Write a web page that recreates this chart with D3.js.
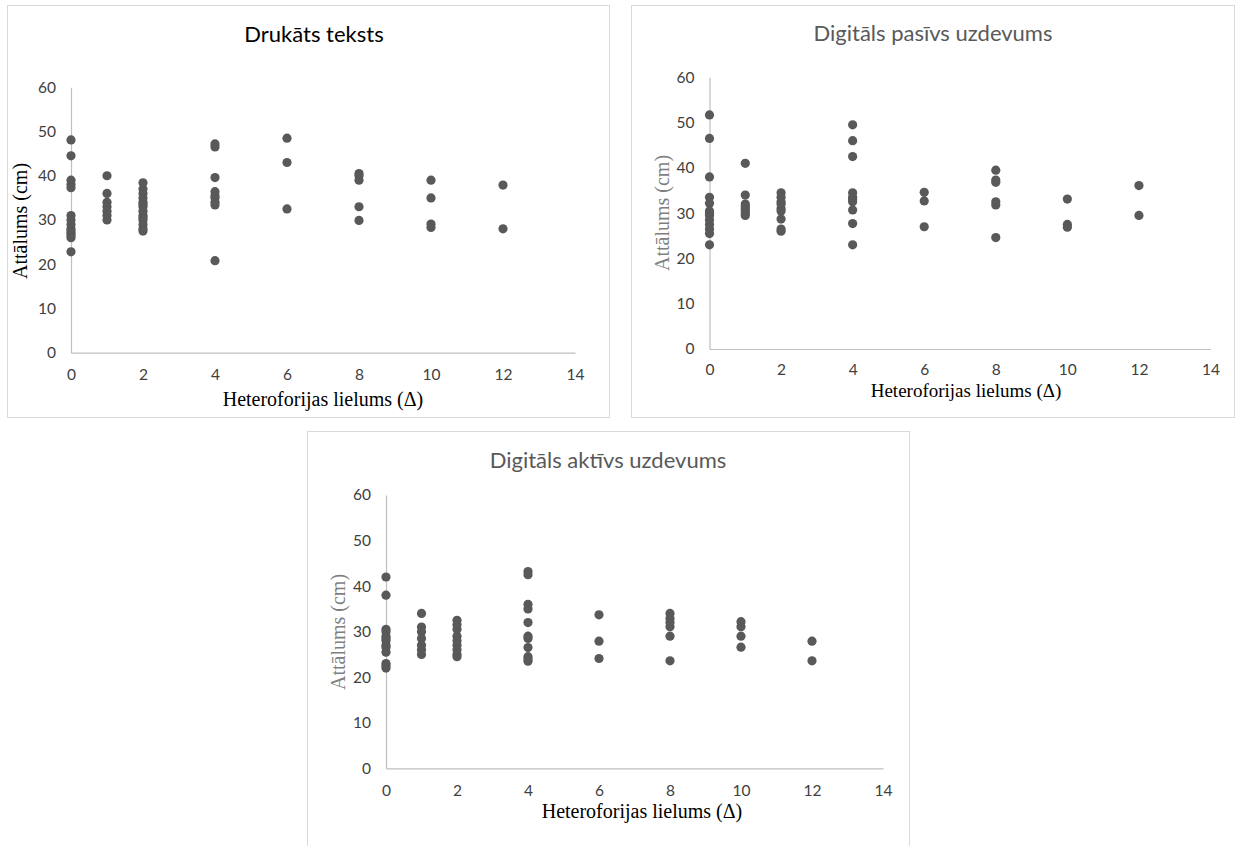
<!DOCTYPE html>
<html><head><meta charset="utf-8">
<script src="https://cdn.jsdelivr.net/npm/d3@7"></script>
<style>body{margin:0;background:#fff}svg{display:block}</style>
</head><body>
<svg id="c" width="1237" height="846"></svg>
<script>
const xTicks = [0, 2, 4, 6, 8, 10, 12, 14];
const yTicks = [0, 10, 20, 30, 40, 50, 60];
const titles = ["Drukāts teksts", "Digitāls pasīvs uzdevums", "Digitāls aktīvs uzdevums"];
const xAxisTitle = "Heteroforijas lielums (Δ)";
const yAxisTitle = "Attālums (cm)";

// Drukāts teksts
const printX = [0,0,0,0,0,0,0,0,0,0,0,0,0,0, 1,1,1,1,1,1,1, 2,2,2,2,2,2,2,2,2,2,2,2,2,2, 4,4,4,4,4,4,4,4,4, 6,6,6, 8,8,8,8,8, 10,10,10,10, 12,12];
const printY = [48.1,44.5,39,38,37.3,31,30,29,28,27.5,27,26.5,26,22.8, 40,36,34,33,32,31,30, 38.4,37,36,35,34,33.5,33,32,31,30.5,30,29,28,27.5, 47.2,46.5,39.6,36.4,35.5,35,34,33.4,20.8, 48.5,43,32.5, 40.5,40,39,33,29.9, 39,35,29.1,28.3, 37.9,28];

// Digitāls pasīvs uzdevums
const passiveX = [0,0,0,0,0,0,0,0,0,0,0,0,0, 1,1,1,1,1,1,1,1, 2,2,2,2,2,2,2,2,2, 4,4,4,4,4,4,4,4,4,4, 6,6,6, 8,8,8,8,8,8, 10,10,10, 12,12];
const passiveY = [51.7,46.5,38,33.5,32.2,30.5,30,29.5,28.5,27.5,26.5,25.5,23, 41,34,32,31.5,31,30.5,30,29.5, 34.5,33.5,32.5,32,31,30.5,28.7,26.5,26, 49.5,46,42.5,34.5,33.5,33,32.5,30.7,27.7,23, 34.6,32.7,27, 39.5,37.3,36.8,32.5,31.8,24.6, 33.1,27.5,26.9, 36.1,29.5];

// Digitāls aktīvs uzdevums
const activeX = [0,0,0,0,0,0,0,0,0,0,0,0,0, 1,1,1,1,1,1,1, 2,2,2,2,2,2,2,2,2, 4,4,4,4,4,4,4,4,4,4,4, 6,6,6, 8,8,8,8,8,8, 10,10,10,10, 12,12];
const activeY = [42,38,30.5,30,29,28.5,28,27,26.5,25.5,23,22.5,22, 34,31,30,28.5,27,26,25, 32.5,31.5,30.5,29,28,27,26,25,24.5, 43.2,42.5,36,35,32,29,28.5,26.5,24.5,24,23.5, 33.7,27.9,24.1, 34,32.9,32,31.1,29,23.6, 32.2,31.1,29,26.6, 27.9,23.6];

const svg = d3.select("#c");

const panels = [
  {title: titles[0], xs: printX, ys: printY, box: [7.5, 5.5, 602, 412], x0: 71, x1: 575, yTop: 87.3, yBot: 352.7,
   titleX: 314, titleY: 42, titleColor: "#000", yTitleColor: "#000", xTitleX: 323, xTitleY: 406, xTitleSize: 20, yTitleX: 27, yTitleY: 221, tickY: 380},
  {title: titles[1], xs: passiveX, ys: passiveY, box: [631.5, 5.5, 603, 412], x0: 709.5, x1: 1210.5, yTop: 77.3, yBot: 349,
   titleX: 933, titleY: 41, titleColor: "#595959", yTitleColor: "#7f7f7f", xTitleX: 966, xTitleY: 397, xTitleSize: 19, yTitleX: 669, yTitleY: 213, tickY: 375},
  {title: titles[2], xs: activeX, ys: activeY, box: [307.5, 431.5, 602, 430], x0: 386, x1: 883, yTop: 495, yBot: 768.3,
   titleX: 608, titleY: 468, titleColor: "#595959", yTitleColor: "#7f7f7f", xTitleX: 642, xTitleY: 818, xTitleSize: 20, yTitleX: 345, yTitleY: 632, tickY: 796}
];

panels.forEach(p => {
  const g = svg.append("g");
  g.append("rect").attr("x", p.box[0]).attr("y", p.box[1]).attr("width", p.box[2]).attr("height", p.box[3])
    .attr("fill", "#fff").attr("stroke", "#d9d9d9").attr("stroke-width", 1);

  const x = d3.scaleLinear().domain([0, 14]).range([p.x0, p.x1]);
  const y = d3.scaleLinear().domain([0, 60]).range([p.yBot, p.yTop]);

  const xAxis = d3.axisBottom(x).tickValues(xTicks).tickSize(0).tickPadding(0);
  const gx = g.append("g").attr("transform", `translate(0,${p.yBot})`).call(xAxis);
  gx.select(".domain").attr("stroke", "#bfbfbf").attr("stroke-width", 1.2);
  gx.selectAll("text").attr("font-family", "Lato, 'Open Sans', sans-serif").attr("font-size", 15.5)
    .attr("fill", "#404040").attr("y", p.tickY - p.yBot).attr("dy", 0);

  const yAxis = d3.axisLeft(y).tickValues(yTicks).tickSize(0).tickPadding(15);
  const gy = g.append("g").attr("transform", `translate(${p.x0},0)`).call(yAxis);
  gy.select(".domain").attr("stroke", "#bfbfbf").attr("stroke-width", 1.2);
  gy.selectAll("text").attr("font-family", "Lato, 'Open Sans', sans-serif").attr("font-size", 15.5)
    .attr("fill", "#404040");

  g.append("text").attr("x", p.titleX).attr("y", p.titleY).attr("text-anchor", "middle")
    .attr("font-family", "Lato, 'Open Sans', sans-serif").attr("font-size", 22)
    .attr("fill", p.titleColor).text(p.title);

  g.append("text").attr("x", p.xTitleX).attr("y", p.xTitleY).attr("text-anchor", "middle")
    .attr("font-family", "'Liberation Serif', 'Times New Roman', serif").attr("font-size", p.xTitleSize)
    .attr("fill", "#000").text(xAxisTitle);

  g.append("text").attr("transform", `translate(${p.yTitleX},${p.yTitleY}) rotate(-90)`).attr("text-anchor", "middle")
    .attr("font-family", "'Liberation Serif', 'Times New Roman', serif").attr("font-size", 20)
    .attr("fill", p.yTitleColor).text(yAxisTitle);

  g.append("g").selectAll("circle").data(p.xs.map((v, i) => [v, p.ys[i]])).join("circle")
    .attr("cx", d => x(d[0])).attr("cy", d => y(d[1])).attr("r", 4.6).attr("fill", "#595959");
});
</script>
</body></html>
